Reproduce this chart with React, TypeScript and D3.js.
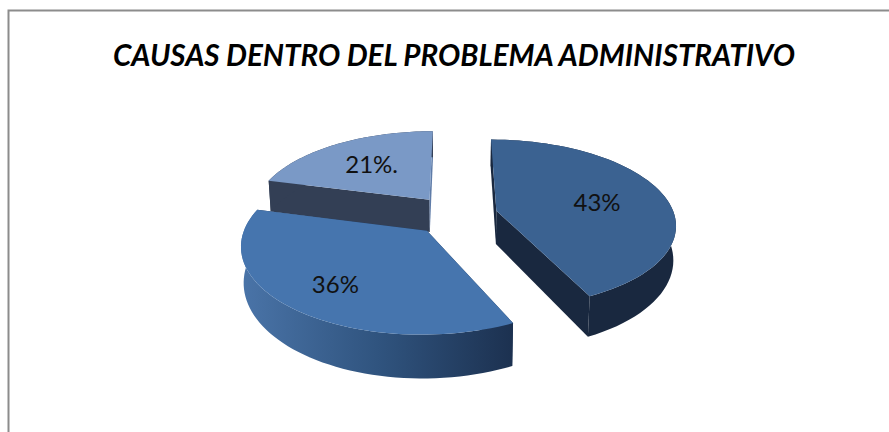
import React from "react";
import * as d3 from "d3";

// Share of each cause, in percent, clockwise from twelve o'clock.
const causes = ["a", "b", "c"];
const shares = [43, 36, 21];
const shareLabels = ["43%", "36%", "21%."];
const chartTitle = "CAUSAS DENTRO DEL PROBLEMA ADMINISTRATIVO";

// Per-slice styling.
const topColors = ["#3b6291", "#4675ae", "#7a99c6"];
const wallColors = ["#19283f", "url(#frontWall)", "#333f55"];
const startFaceColors = ["#19283f", "#1d3352", "#333f55"];
const endFaceColors = ["#19283f", "#1d3352", "#5f7ca8"];
const labelReach = [0.6, 0.7, 0.6];
const labelDrop = [11, 11, 8];
const paintOrder = [2, 0, 1];

// Perspective camera for the tilted disc.
const WIDTH = 889;
const HEIGHT = 432;
const CX = 455;
const CY = 215;
const SX = 178;
const SY = 83;
const PERSPECTIVE = 0.15;
const THICKNESS = 34;
const THICKNESS_FLARE = 0.1;
const DEPTH_SHRINK = 0.012;
const EXPLODE = 0.24;

type Pt = [number, number];

function project(X: number, Y: number, Z: number): Pt {
  const d = 1 - PERSPECTIVE * Y + DEPTH_SHRINK * Z;
  const wall = THICKNESS * (1 + THICKNESS_FLARE * Y) * Z;
  return [CX + (SX * X) / d, CY + (SY * Y + wall) / d];
}

const pieLayout = d3.pie<number>().sort(null).value((d) => d);
const arcs = pieLayout(shares);
const line = d3.line<Pt>();

function onRim(angle: number, offX: number, offY: number, reach = 1): [number, number] {
  return [offX + reach * Math.sin(angle), offY - reach * Math.cos(angle)];
}

export default function App() {
  const slices = arcs.map((a, i) => {
    const mid = (a.startAngle + a.endAngle) / 2;
    const offX = EXPLODE * Math.sin(mid);
    const offY = -EXPLODE * Math.cos(mid);
    const steps = d3.range(0, 61).map((k) => a.startAngle + ((a.endAngle - a.startAngle) * k) / 60);
    const rim = steps.map((t) => onRim(t, offX, offY));
    const topRim = rim.map(([x, y]) => project(x, y, 0));
    const lowRim = rim.map(([x, y]) => project(x, y, 1));
    const apexTop = project(offX, offY, 0);
    const apexLow = project(offX, offY, 1);
    const [lx, ly] = onRim(mid, offX, offY, labelReach[i]);
    return {
      i,
      top: line([apexTop, ...topRim])! + "Z",
      wall: line([...topRim, ...lowRim.slice().reverse()])! + "Z",
      startFace: line([apexTop, topRim[0], lowRim[0], apexLow])! + "Z",
      endFace: line([apexTop, topRim[60], lowRim[60], apexLow])! + "Z",
      label: project(lx, ly, 0),
    };
  });

  return (
    <svg
      width={WIDTH}
      height={HEIGHT}
      style={{ position: "absolute", left: 0, top: 0, display: "block", background: "#fff" }}
    >
      <defs>
        <linearGradient id="frontWall" gradientUnits="userSpaceOnUse" x1={241} x2={513} y1={0} y2={0}>
          <stop offset="0" stopColor="#4a74a8" />
          <stop offset="0.5" stopColor="#30547f" />
          <stop offset="1" stopColor="#1c3150" />
        </linearGradient>
      </defs>
      <path d={`M8.5 432V10.5H889`} fill="none" stroke="#8c8c8c" strokeWidth={2} />
      <text
        x={454}
        y={66}
        textAnchor="middle"
        textLength={682}
        lengthAdjust="spacingAndGlyphs"
        fontFamily="Lato"
        fontWeight={700}
        fontStyle="italic"
        fontSize={30}
        fill="#000"
      >
        {chartTitle}
      </text>
      {paintOrder.map((idx) => {
        const s = slices[idx];
        return (
          <g key={causes[idx]}>
            <path d={s.startFace} fill={startFaceColors[idx]} />
            <path d={s.endFace} fill={endFaceColors[idx]} />
            <path d={s.wall} fill={wallColors[idx]} />
            <path d={s.top} fill={topColors[idx]} />
          </g>
        );
      })}
      {slices.map((s) => (
        <text
          key={s.i}
          x={s.label[0]}
          y={s.label[1] + labelDrop[s.i]}
          textAnchor="middle"
          fontFamily="Lato"
          fontSize={24}
          fill="#111"
        >
          {shareLabels[s.i]}
        </text>
      ))}
    </svg>
  );
}
